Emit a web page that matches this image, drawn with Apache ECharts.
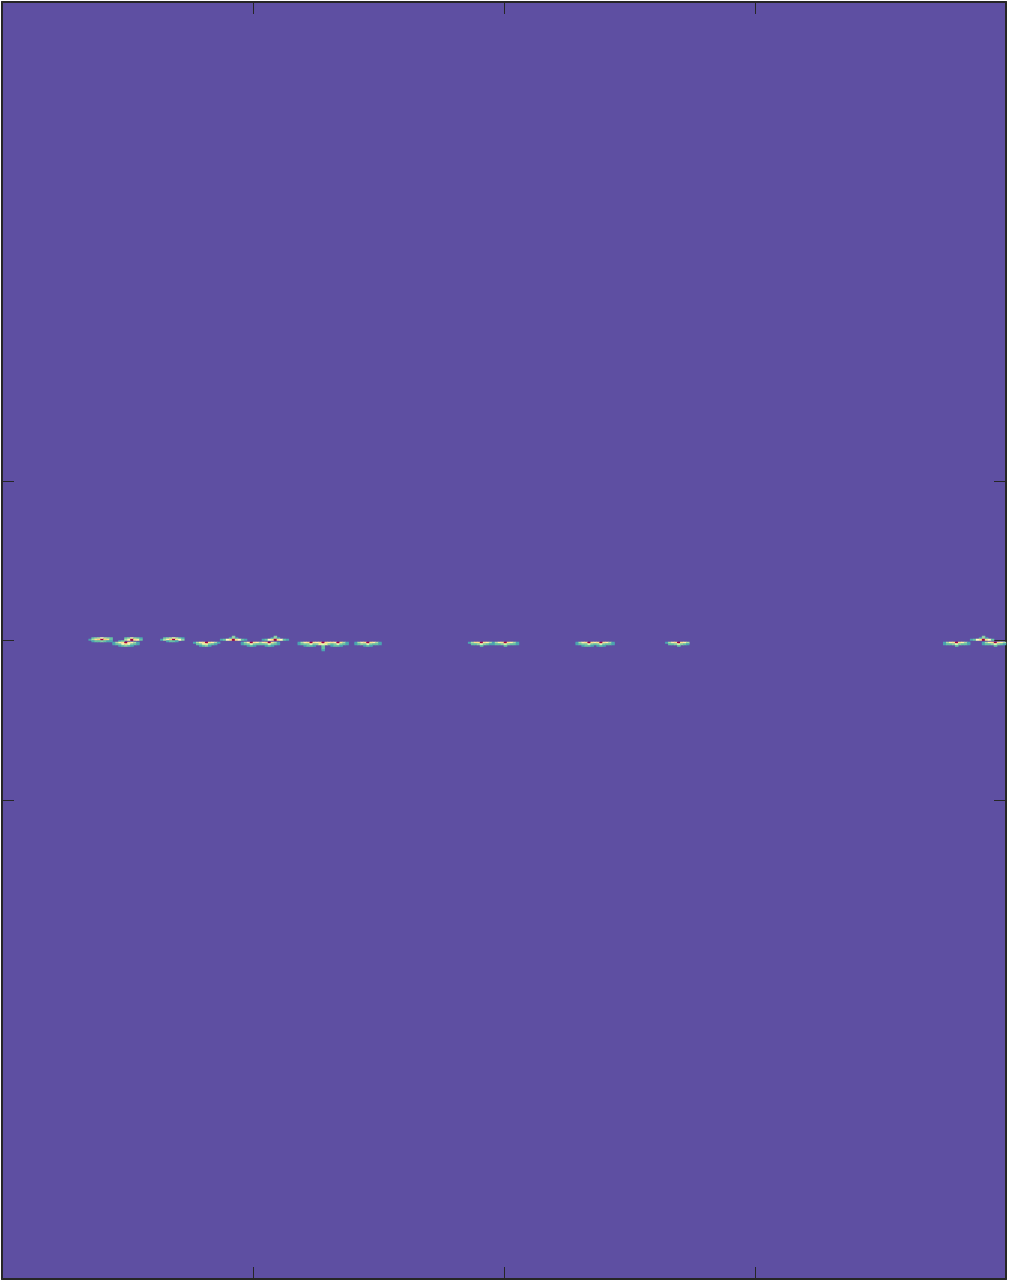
<!DOCTYPE html>
<html>
<head>
<meta charset="utf-8">
<script src="https://cdn.jsdelivr.net/npm/echarts@6/dist/echarts.min.js"></script>
<style>
  html, body { margin: 0; padding: 0; background: #fff; }
  #chart { width: 1010px; height: 1283px; }
</style>
</head>
<body>
<div id="chart"></div>
<script>
// image size in cells
const nCols = 336
const nRows = 850

// tick positions on the frame axes
const xTicks = [1, 2, 3]
const yTicks = [3, 4, 5]

// blobs: [start column, start row, rows of values left to right]
// 0 = background (lowest value)
const blobs = [
  [29, 423, [
    [0, 2, 2.5, 3, 5, 3, 2.5, 2],
    [1.5, 3, 6, 6.5, 10, 6.5, 6, 2],
    [0, 1.5, 2, 2, 2.5, 2, 1.5, 1.5]]],
  [37, 425, [
    [0, 0, 1.5, 2],
    [1.5, 3, 5.5, 6, 10, 6, 5.5, 3, 1.5],
    [1.5, 2, 2.5, 5, 6, 5, 2.5, 2, 1.5],
    [0, 0, 1.5, 2, 2.5, 2, 1.5]]],
  [41, 423, [
    [2, 2.5, 4.5, 2.5, 2, 1.5],
    [3, 5.5, 10, 6, 5.5, 2]]],
  [53, 423, [
    [0, 2, 2.5, 3, 4.5, 3, 2, 1.5],
    [1.5, 3, 5.5, 6.5, 10, 6, 5, 2.5],
    [0, 0, 1.5, 2, 2, 1.5]]],
  [64, 426, [
    [1.5, 3, 5.5, 6, 10, 6, 5.5, 3, 1.5],
    [0, 2, 2.5, 4.5, 5.5, 2.5, 2, 1.5],
    [0, 0, 1.5, 2, 2.5, 1.5]]],
  [73, 422, [
    [0, 0, 0, 0, 2.5],
    [0, 0, 0, 1.5, 3, 1.5],
    [1.5, 2, 5, 6, 10, 6, 5, 2, 1.5]]],
  [80, 426, [
    [1.5, 3, 5.5, 10, 6, 5.5, 3, 5.5, 6, 10, 6, 3, 1.5],
    [1.5, 2, 2.5, 5, 2.5, 2, 2, 2, 2.5, 5, 2.5, 2, 1.5],
    [0, 0, 1.5, 2, 1.5, 0, 0, 0, 1.5, 2, 1.5]]],
  [87, 422, [
    [0, 0, 0, 0, 2.5],
    [0, 0, 0, 1.5, 3, 1.5],
    [1.5, 2, 5, 6, 10, 6, 5, 2, 1.5]]],
  [99, 426, [
    [1.5, 3, 5.5, 6, 10, 6, 5.5, 6, 10, 6, 5.5, 6, 5.5, 10, 6, 3, 1.5],
    [1.5, 2, 2.5, 2.5, 5, 2.5, 2.5, 4, 5, 4, 2.5, 2, 2.5, 5, 2.5, 2, 1.5],
    [0, 0, 1.5, 2, 2, 1.5, 0, 0, 2.5, 0, 0, 1.5, 2, 2, 1.5],
    [0, 0, 0, 0, 0, 0, 0, 0, 2],
    [0, 0, 0, 0, 0, 0, 0, 0, 2],
    [0, 0, 0, 0, 0, 0, 0, 0, 1.5]]],
  [118, 426, [
    [1.5, 3, 5.5, 6, 10, 6, 5.5, 3, 1.5],
    [1.5, 2, 2.5, 2.5, 5, 2.5, 2, 2, 1.5],
    [0, 0, 0, 1.5, 2, 1.5]]],
  [156, 426, [
    [1.5, 3, 6, 6, 10, 6, 5.5, 3],
    [0, 2, 2, 2.5, 5, 2.5, 2, 1.5],
    [0, 0, 0, 0, 2]]],
  [164, 426, [
    [1.5, 3, 5.5, 6, 10, 6, 5.5, 3, 1.5],
    [1.5, 2, 2, 2.5, 4.5, 2.5, 2, 2, 1.5],
    [0, 0, 0, 0, 2]]],
  [192, 426, [
    [1.5, 3, 5.5, 6, 10, 6, 5.5, 6, 10, 6, 5.5, 3, 1.5],
    [1.5, 2, 2.5, 2.5, 5, 2.5, 2, 2.5, 5, 2.5, 2, 2, 1.5],
    [0, 0, 1.5, 2, 2, 1.5, 0, 1.5, 2, 1.5]]],
  [222, 426, [
    [1.5, 3, 5.5, 6, 10, 6, 5.5, 3],
    [0, 2, 2, 2.5, 4.5, 2.5, 2, 1.5],
    [0, 0, 0, 0, 2]]],
  [315, 426, [
    [1.5, 3, 5.5, 6, 10, 6, 5.5, 3, 1.5],
    [1.5, 2, 2, 2.5, 5, 2.5, 2, 2, 1.5],
    [0, 0, 0, 0, 2]]],
  [324, 422, [
    [0, 0, 0, 0, 2.5],
    [0, 0, 0, 1.5, 3, 1.5],
    [1.5, 2, 5, 6, 10, 6, 5, 2]]],
  [328, 426, [
    [1.5, 3, 5.5, 6, 10, 6, 5.5, 3],
    [1.5, 2, 2, 2.5, 5, 2.5, 2, 1.5],
    [0, 0, 0, 0, 2]]],
]

// Spectral, reversed (low = purple, high = dark red)
const spectral = ['#5e4fa2', '#3288bd', '#66c2a5', '#abdda4', '#e6f598', '#ffffbf',
  '#fee08b', '#fdae61', '#f46d43', '#d53e4f', '#9e0142']

const colCats = []
for (let i = 0; i < nCols; i++) colCats.push(i)
const rowCats = []
for (let i = 0; i < nRows; i++) rowCats.push(i)

const cells = []
blobs.forEach(([c, r, rows]) => {
  rows.forEach((row, i) => {
    row.forEach((v, j) => {
      if (v > 0) cells.push([c + j, r + i, v])
    })
  })
})

const frameColor = '#262626'
const frameAxis = (extra) => Object.assign({
  type: 'value',
  axisLine: { show: true, onZero: false, lineStyle: { color: frameColor, width: 2 } },
  axisLabel: { show: false },
  splitLine: { show: false },
  axisTick: { show: true, inside: true, length: 12, lineStyle: { color: frameColor, width: 1 } },
}, extra)

const chart = echarts.init(document.getElementById('chart'))
chart.setOption({
  animation: false,
  grid: {
    left: 2, right: 4, top: 2, bottom: 4,
    show: true, backgroundColor: spectral[0], borderWidth: 0,
  },
  visualMap: {
    show: false, type: 'continuous', min: 0, max: 10,
    seriesIndex: 0, inRange: { color: spectral },
  },
  xAxis: [
    { type: 'category', data: colCats, show: false },
    frameAxis({ position: 'bottom', min: 0, max: 4, interval: 1,
      axisTick: { show: true, inside: true, length: 12, customValues: xTicks, lineStyle: { color: frameColor, width: 1 } } }),
    frameAxis({ position: 'top', min: 0, max: 4, interval: 1,
      axisTick: { show: true, inside: true, length: 12, customValues: xTicks, lineStyle: { color: frameColor, width: 1 } } }),
  ],
  yAxis: [
    { type: 'category', data: rowCats, show: false, inverse: true },
    frameAxis({ position: 'left', min: 0, max: 8, interval: 1,
      axisTick: { show: true, inside: true, length: 12, customValues: yTicks, lineStyle: { color: frameColor, width: 1 } } }),
    frameAxis({ position: 'right', min: 0, max: 8, interval: 1,
      axisTick: { show: true, inside: true, length: 12, customValues: yTicks, lineStyle: { color: frameColor, width: 1 } } }),
  ],
  series: [{
    type: 'heatmap',
    xAxisIndex: 0,
    yAxisIndex: 0,
    data: cells,
    progressive: 0,
    emphasis: { disabled: true },
    itemStyle: { borderWidth: 0 },
  }],
})
</script>
</body>
</html>
